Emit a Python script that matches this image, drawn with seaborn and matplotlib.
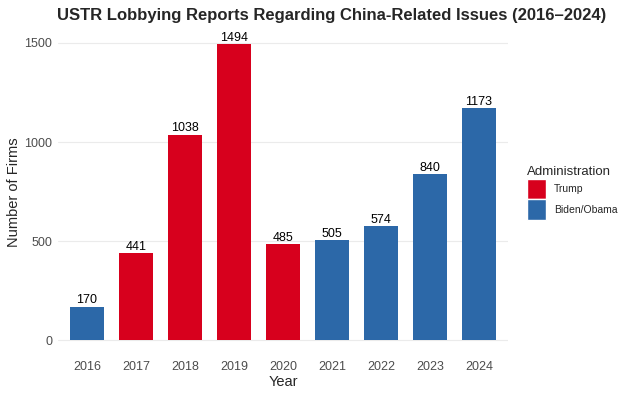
import pandas as pd
import seaborn as sns
import matplotlib.pyplot as plt
from matplotlib.patches import Patch

# data
years = ["2016", "2017", "2018", "2019", "2020", "2021", "2022", "2023", "2024"]
firms = [170, 441, 1038, 1494, 485, 505, 574, 840, 1173]
admin = ["Biden/Obama", "Trump", "Trump", "Trump", "Trump",
         "Biden/Obama", "Biden/Obama", "Biden/Obama", "Biden/Obama"]

palette = {"Trump": "#D7001D", "Biden/Obama": "#2C68A8"}

df = pd.DataFrame({"Year": years, "Firms": firms, "Administration": admin})

sns.set_theme(style="white")
plt.rcParams['font.family'] = ['Liberation Sans', 'DejaVu Sans']

fig = plt.figure(figsize=(6.24, 3.96), dpi=100)
ax = fig.add_axes([0.0923, 0.1035, 0.7224, 0.8223])

sns.barplot(data=df, x="Year", y="Firms", hue="Administration", palette=palette,
            dodge=False, width=0.7, saturation=1, legend=False, ax=ax,
            edgecolor="none")

for i, v in enumerate(firms):
    ax.text(i, v + 1, str(v), ha="center", va="bottom", fontsize=9, color="black")

ax.set_xlim(-0.6, len(years) - 0.4)
ax.set_ylim(-74.7, 1568.7)
ax.set_yticks([0, 500, 1000, 1500])
ax.yaxis.grid(True, color="#EBEBEB", linewidth=0.8)
ax.xaxis.grid(False)
ax.set_axisbelow(True)
for s in ax.spines.values():
    s.set_visible(False)
ax.tick_params(axis="both", length=0, labelsize=9, labelcolor="#4D4D4D", pad=4)
ax.set_xlabel("Year", fontsize=10.5, labelpad=2)
ax.set_ylabel("Number of Firms", fontsize=10.5, labelpad=2)

fig.text(0.532, 0.962, "USTR Lobbying Reports Regarding China-Related Issues (2016\u20132024)",
         ha="center", va="center", fontsize=12, fontweight="bold")

handles = [Patch(facecolor=palette[k], label=k) for k in ["Trump", "Biden/Obama"]]
leg = fig.legend(handles=handles, title="Administration", loc="center left",
                 bbox_to_anchor=(0.833, 0.513), frameon=False, fontsize=7.5,
                 title_fontsize=9.5, handlelength=1.85, handleheight=2.6,
                 handletextpad=0.75, labelspacing=0.05, borderaxespad=0.3)
leg._legend_box.align = "left"

plt.savefig("out.png", dpi=100)
